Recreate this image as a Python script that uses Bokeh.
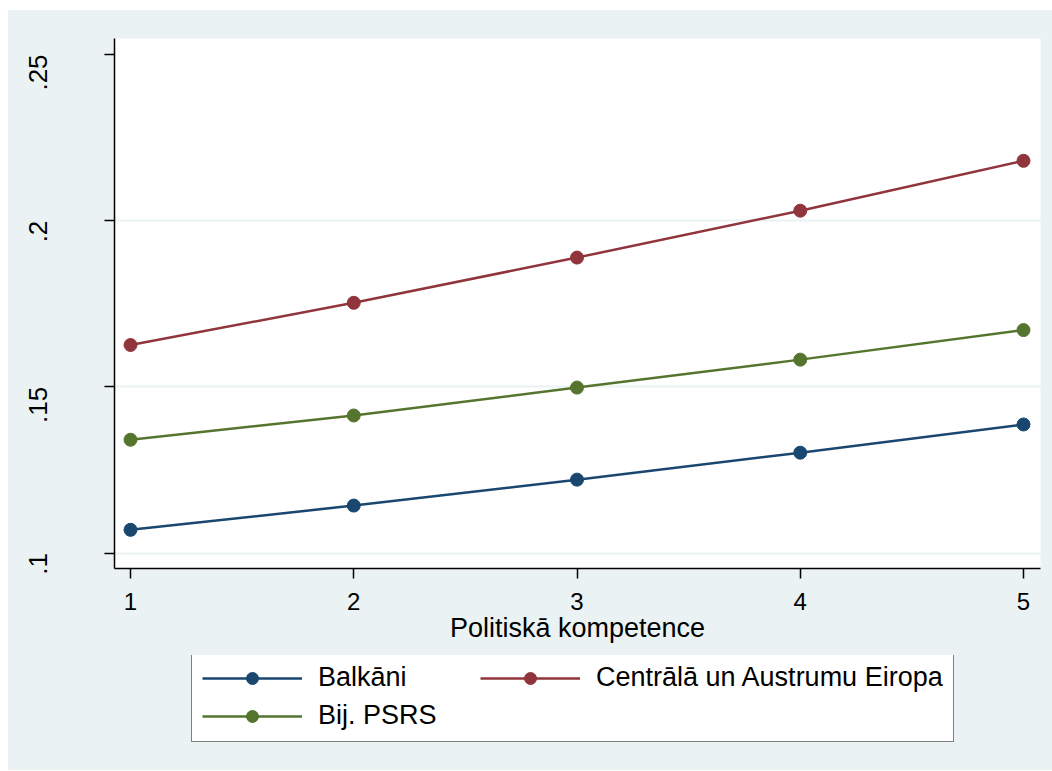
import math
from bokeh.plotting import figure
from bokeh.layouts import column
from bokeh.models import Range1d, FixedTicker, Legend, LegendItem
from bokeh.embed import file_html
from bokeh.resources import INLINE

# ---- data ----
x_vals = [1, 2, 3, 4, 5]
balkani = [0.1070, 0.1143, 0.1221, 0.1302, 0.1387]
centr_austr = [0.1626, 0.1753, 0.1889, 0.2030, 0.2180]
bij_psrs = [0.1341, 0.1414, 0.1498, 0.1582, 0.1671]
series_names = ["Balkāni", "Centrālā un Austrumu Eiropa", "Bij. PSRS"]
y_ticks = [0.1, 0.15, 0.2, 0.25]
y_tick_labels = [".1", ".15", ".2", ".25"]
y_grid_ticks = [0.1, 0.15, 0.2]
x_ticks = [1, 2, 3, 4, 5]
x_title = "Politiskā kompetence"

BG = "#EAF2F3"
FONT = "Liberation Sans"
colors = ["#1A476F", "#90353B", "#55752F"]
series = [balkani, centr_austr, bij_psrs]

p = figure(width=1044, height=645, output_backend="svg", toolbar_location=None,
           x_range=Range1d(0.9283, 5.0761), y_range=Range1d(0.09537, 0.2548),
           background_fill_color="white", border_fill_color=BG,
           min_border_left=106, min_border_right=12, min_border_top=28,
           min_border_bottom=87)
p.outline_line_color = None
p.xgrid.visible = False
p.ygrid.ticker = FixedTicker(ticks=y_grid_ticks)
p.ygrid.grid_line_color = BG
p.ygrid.grid_line_width = 2

# x axis
xa = p.xaxis[0]
xa.ticker = FixedTicker(ticks=x_ticks)
xa.minor_tick_line_color = None
xa.major_tick_in = 0
xa.major_tick_out = 10
xa.major_tick_line_width = 1.5
xa.axis_line_width = 1.5
xa.major_label_text_font = FONT
xa.major_label_text_font_size = "24px"
xa.major_label_text_color = "black"
xa.major_label_standoff = 14
xa.axis_label = x_title
xa.axis_label_text_font = FONT
xa.axis_label_text_font_size = "27px"
xa.axis_label_text_font_style = "normal"
xa.axis_label_text_color = "black"
xa.axis_label_standoff = 0

# y axis
ya = p.yaxis[0]
ya.ticker = FixedTicker(ticks=y_ticks)
ya.major_label_overrides = {t: l for t, l in zip(y_ticks, y_tick_labels)}
ya.minor_tick_line_color = None
ya.major_tick_in = 0
ya.major_tick_out = 10
ya.major_tick_line_width = 1.5
ya.axis_line_width = 1.5
ya.major_label_text_font = FONT
ya.major_label_text_font_size = "26px"
ya.major_label_text_color = "black"
ya.major_label_orientation = math.pi / 2
ya.major_label_standoff = 66

for vals, col in zip(series, colors):
    p.line(x_vals, vals, line_color=col, line_width=2.5)
    p.scatter(x_vals, vals, marker="circle", size=13, fill_color=col,
              line_color=col)

# ---- legend strip below the chart (transparent; the column paints BG) ----
lg = figure(width=1044, height=115, output_backend="svg", toolbar_location=None,
            x_axis_location=None, y_axis_location=None,
            x_range=Range1d(100, 101), y_range=Range1d(100, 101),
            background_fill_color=None, border_fill_color=None,
            min_border_left=0, min_border_right=0, min_border_top=0,
            min_border_bottom=0)
lg.outline_line_color = None
lg.xgrid.visible = False
lg.ygrid.visible = False

items = []
for name, vals, col in zip(series_names, series, colors):
    r1 = lg.line(x_vals, vals, line_color=col, line_width=2.5)
    r2 = lg.scatter(x_vals, vals, marker="circle", size=13, fill_color=col,
                    line_color=col)
    items.append(LegendItem(label=name, renderers=[r1, r2]))

legend = Legend(items=items, orientation="horizontal", ncols=2,
                location=(77, 28))
legend.label_text_font = FONT
legend.label_text_font_size = "27px"
legend.label_text_color = "black"
legend.glyph_width = 100
legend.glyph_height = 30
legend.label_height = 30
legend.label_width = 155
legend.label_standoff = 16
legend.padding = 10
legend.spacing = 7
legend.margin = 0
legend.border_line_color = "black"
legend.border_line_width = 1
legend.background_fill_color = "white"
legend.background_fill_alpha = 1
lg.add_layout(legend, "center")

layout = column(p, lg, spacing=0, margin=(10, 0, 0, 8),
                styles={"background-color": BG})
open("out.html", "w").write(file_html(layout, INLINE))
